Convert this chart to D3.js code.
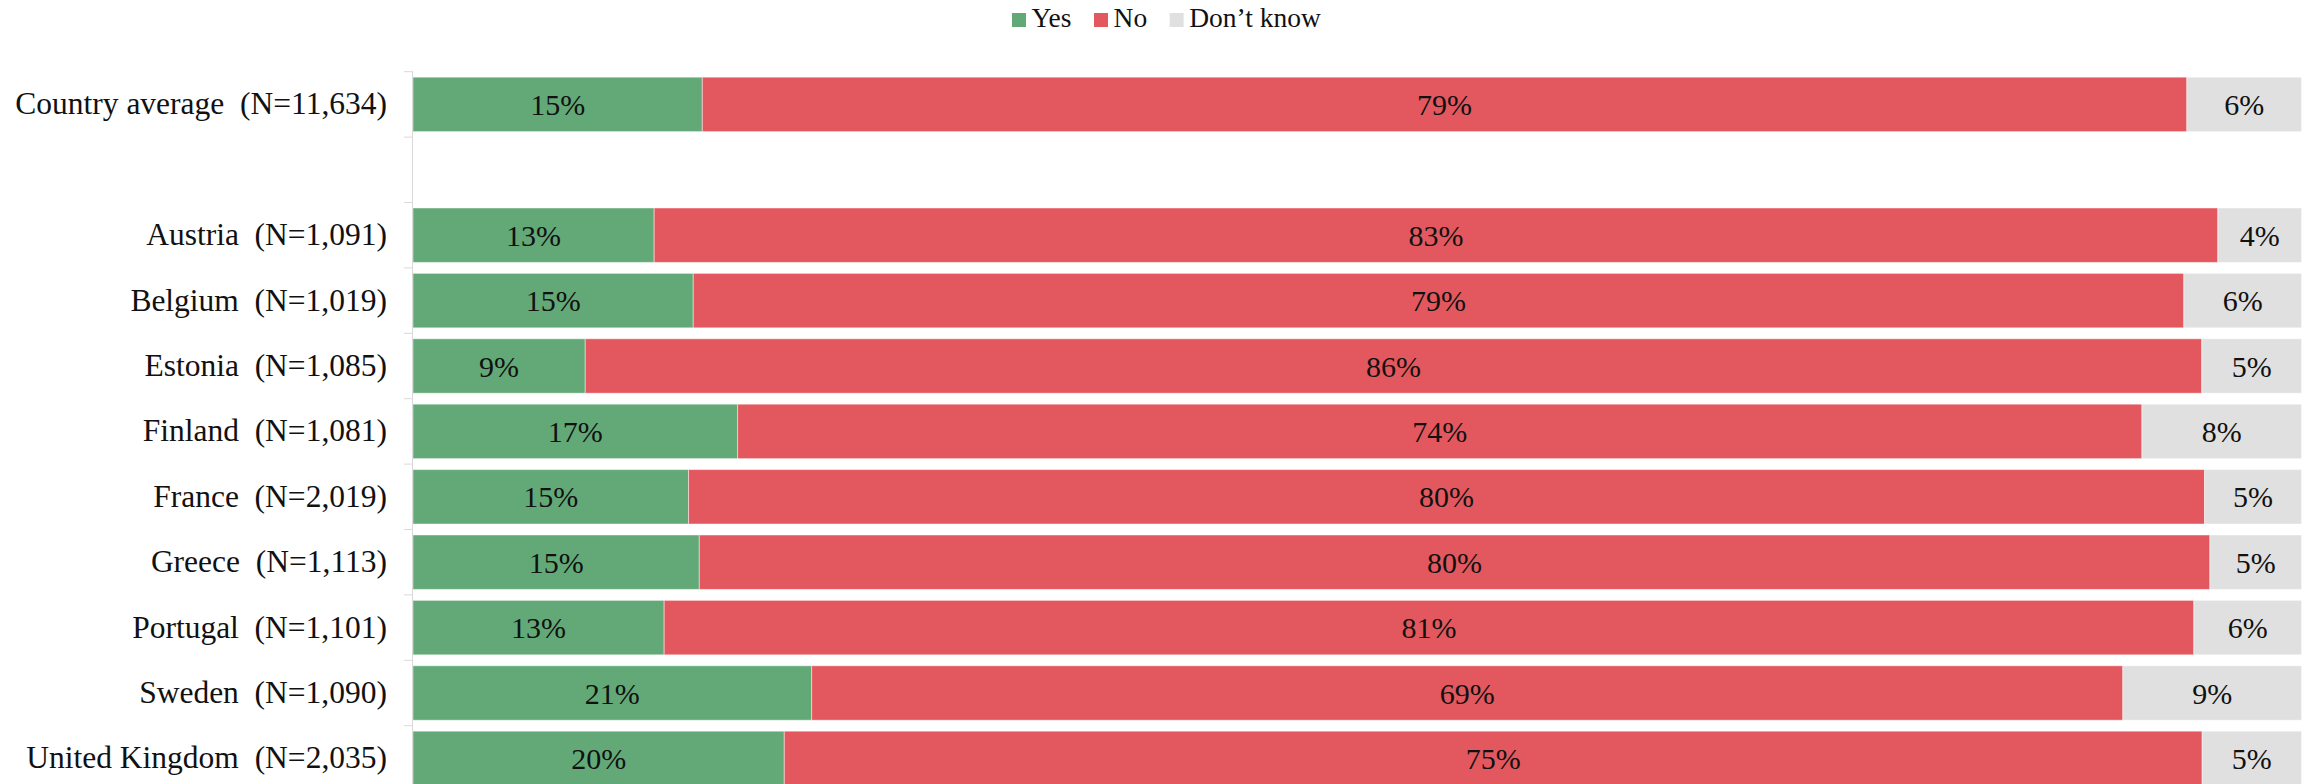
<!DOCTYPE html>
<html>
<head>
<meta charset="utf-8">
<script src="https://cdn.jsdelivr.net/npm/d3@7"></script>
<style>
  html, body { margin: 0; padding: 0; background: #fff; }
  svg { display: block; }
  text { font-family: "Liberation Serif", "DejaVu Serif", serif; fill: #111; }
  .cat text { white-space: pre; }
</style>
</head>
<body>
<svg id="chart" width="2308" height="784"></svg>
<script>
// ---- data ----
const categories = [
  "Country average  (N=11,634)",
  "",
  "Austria  (N=1,091)",
  "Belgium  (N=1,019)",
  "Estonia  (N=1,085)",
  "Finland  (N=1,081)",
  "France  (N=2,019)",
  "Greece  (N=1,113)",
  "Portugal  (N=1,101)",
  "Sweden  (N=1,090)",
  "United Kingdom  (N=2,035)"
];
const seriesNames = ["Yes", "No", "Don\u2019t know"];
const yesValues      = [15.32, null, 12.77, 14.84, 9.12, 17.19, 14.59, 15.16, 13.30, 21.11, 19.66];
const noValues       = [78.61, null, 82.80, 78.93, 85.60, 74.36, 80.28, 79.99, 81.00, 69.43, 75.08];
const dontKnowValues = [6.07,  null, 4.43,  6.23,  5.28,  8.45,  5.13,  4.85,  5.70,  9.46,  5.26];
const colors = ["#63a978", "#e3585e", "#e0e0e0"];

// ---- build table ----
const rows = categories.map((c, i) => ({
  idx: i, label: c,
  Yes: yesValues[i], No: noValues[i], "Don\u2019t know": dontKnowValues[i]
}));
const dataRows = rows.filter(r => r.Yes != null);

const svg = d3.select("#chart");
const x = d3.scaleLinear().domain([0, 100]).range([413, 2301.5]);
const y = d3.scaleBand().domain(d3.range(categories.length))
  .range([71.7, 71.7 + 65.4 * categories.length])
  .paddingInner(0.168).paddingOuter(0.084);

const stack = d3.stack().keys(seriesNames);
const stacked = stack(dataRows);

// bars
const g = svg.append("g");
stacked.forEach((layer, k) => {
  g.selectAll(null).data(layer).enter().append("rect")
    .attr("x", d => x(d[0]))
    .attr("y", d => y(d.data.idx))
    .attr("width", d => x(d[1]) - x(d[0]))
    .attr("height", y.bandwidth())
    .attr("fill", colors[k])
    .attr("stroke", "#ffffff")
    .attr("stroke-opacity", 0.45)
    .attr("stroke-width", 1);
});

// value labels
stacked.forEach((layer, k) => {
  g.selectAll(null).data(layer).enter().append("text")
    .attr("x", d => (x(d[0]) + x(d[1])) / 2)
    .attr("y", d => y(d.data.idx) + y.bandwidth() / 2)
    .attr("dy", "0.35em")
    .attr("text-anchor", "middle")
    .style("font-size", "30px")
    .text(d => Math.round(d[1] - d[0]) + "%");
});

// axis (category labels)
const axis = d3.axisLeft(y).tickSize(0).tickPadding(26).tickFormat(i => categories[i]);
const ag = svg.append("g").attr("class", "cat").attr("transform", `translate(${x(0)},0)`).call(axis);
ag.select(".domain").remove();
ag.selectAll("text").style("font-size", "31.5px").attr("fill", "#111").style("font-family", "Liberation Serif, serif");

// axis line and boundary ticks
const step = y.step();
const boundaries = d3.range(categories.length + 1).map(i => y.range()[0] + i * step);
svg.append("line")
  .attr("x1", x(0) - 0.5).attr("x2", x(0) - 0.5)
  .attr("y1", y.range()[0]).attr("y2", y.range()[1])
  .attr("stroke", "#d9d9d9").attr("stroke-width", 1);
svg.selectAll(".btick").data(boundaries).enter().append("line")
  .attr("x1", x(0) - 9).attr("x2", x(0))
  .attr("y1", d => d).attr("y2", d => d)
  .attr("stroke", "#d9d9d9").attr("stroke-width", 1);

// legend
const lg = svg.append("g").attr("transform", "translate(1012,0)");
let lx = 0;
seriesNames.forEach((name, k) => {
  lg.append("rect").attr("x", lx).attr("y", 13).attr("width", 14).attr("height", 14).attr("fill", colors[k]);
  const t = lg.append("text").attr("x", lx + 19.5).attr("y", 27)
    .style("font-size", "27.5px").text(name);
  lx += 19.5 + t.node().getComputedTextLength() + 22.5;
});
</script>
</body>
</html>
